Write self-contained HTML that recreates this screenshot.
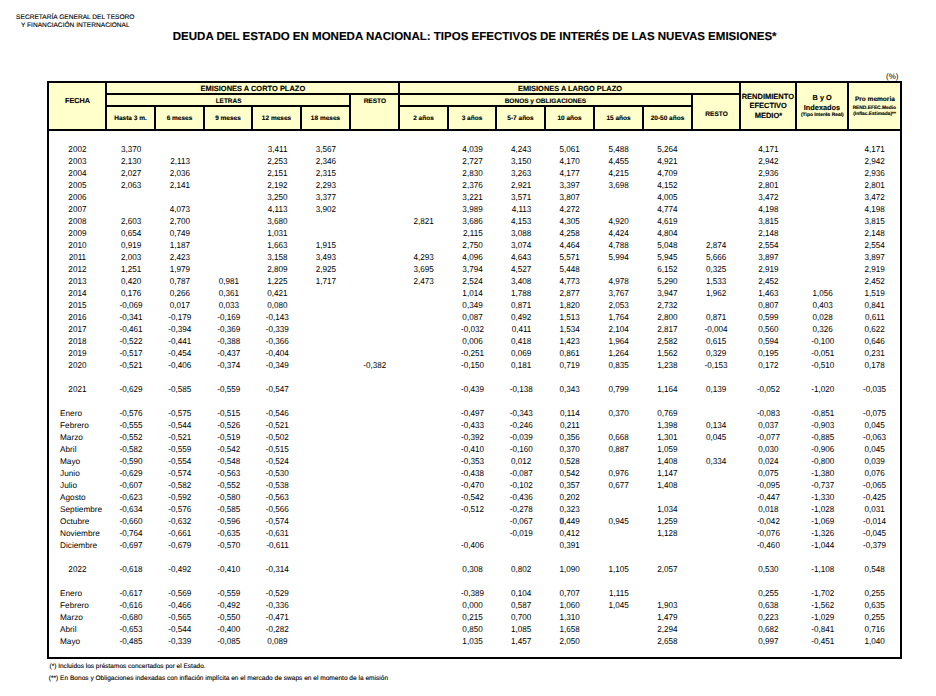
<!DOCTYPE html>
<html lang="es"><head><meta charset="utf-8"><title>Deuda del Estado</title>
<style>
html,body{margin:0;padding:0;background:#fff;width:936px;height:696px;overflow:hidden}
svg{display:block}
svg text{font-family:"Liberation Sans",Arial,sans-serif;text-rendering:geometricPrecision}
.hd text[font-weight=bold]{stroke:#000;stroke-width:0.12px}
</style></head><body>
<svg width="936" height="696" viewBox="0 0 936 696" font-family="Liberation Sans, Arial, sans-serif">
<rect width="936" height="696" fill="#fff"/>
<rect x="49" y="83" width="851" height="46" fill="#FFFFCC"/>
<rect x="47" y="81" width="855" height="2" fill="#000"/>
<rect x="47" y="129" width="855" height="2" fill="#000"/>
<rect x="47" y="657" width="855" height="2" fill="#000"/>
<rect x="47" y="81" width="2" height="578" fill="#000"/>
<rect x="900" y="81" width="2" height="578" fill="#000"/>
<rect x="105" y="93" width="636" height="2" fill="#000"/>
<rect x="105" y="105" width="246" height="2" fill="#000"/>
<rect x="398" y="105" width="295" height="2" fill="#000"/>
<rect x="105" y="81" width="2" height="50" fill="#000"/>
<rect x="154" y="105" width="2" height="26" fill="#000"/>
<rect x="203" y="105" width="2" height="26" fill="#000"/>
<rect x="251" y="105" width="2" height="26" fill="#000"/>
<rect x="300" y="105" width="2" height="26" fill="#000"/>
<rect x="349" y="93" width="2" height="38" fill="#000"/>
<rect x="398" y="81" width="2" height="50" fill="#000"/>
<rect x="447" y="105" width="2" height="26" fill="#000"/>
<rect x="495" y="105" width="2" height="26" fill="#000"/>
<rect x="544" y="105" width="2" height="26" fill="#000"/>
<rect x="593" y="105" width="2" height="26" fill="#000"/>
<rect x="642" y="105" width="2" height="26" fill="#000"/>
<rect x="691" y="93" width="2" height="38" fill="#000"/>
<rect x="739" y="81" width="2" height="50" fill="#000"/>
<rect x="795" y="81" width="2" height="50" fill="#000"/>
<rect x="847" y="81" width="2" height="50" fill="#000"/>
<rect x="559.8" y="517.4" width="4.2" height="6.8" fill="#a9c1e6"/>
<g fill="#000" class="hd">
<text x="75.30" y="18.90" font-size="6.6" text-anchor="middle" fill="#000" stroke="#000" stroke-width="0.12">SECRETARÍA GENERAL DEL TESORO</text>
<text x="75.35" y="26.70" font-size="6.6" text-anchor="middle" fill="#000" stroke="#000" stroke-width="0.12">Y FINANCIACIÓN INTERNACIONAL</text>
<text x="172.80" y="40.00" font-size="11.52" font-weight="bold" fill="#000">DEUDA DEL ESTADO EN MONEDA NACIONAL: TIPOS EFECTIVOS DE INTERÉS DE LAS NUEVAS EMISIONES*</text>
<text x="898.50" y="79.20" font-size="8" text-anchor="end" fill="#000">(%)</text>
<text x="77.50" y="103.00" font-size="7.26" font-weight="bold" text-anchor="middle" fill="#000">FECHA</text>
<text x="252.85" y="91.00" font-size="7.48" font-weight="bold" text-anchor="middle" fill="#000">EMISIONES A CORTO PLAZO</text>
<text x="228.55" y="103.00" font-size="6.45" font-weight="bold" text-anchor="middle" fill="#000">LETRAS</text>
<text x="374.85" y="103.00" font-size="6.55" font-weight="bold" text-anchor="middle" fill="#000">RESTO</text>
<text x="569.95" y="91.00" font-size="7.42" font-weight="bold" text-anchor="middle" fill="#000">EMISIONES A LARGO PLAZO</text>
<text x="545.40" y="103.00" font-size="6.53" font-weight="bold" text-anchor="middle" fill="#000">BONOS y OBLIGACIONES</text>
<text x="130.50" y="120.00" font-size="6.5" font-weight="bold" text-anchor="middle" fill="#000">Hasta 3 m.</text>
<text x="179.50" y="120.00" font-size="6.5" font-weight="bold" text-anchor="middle" fill="#000">6 meses</text>
<text x="228.00" y="120.00" font-size="6.5" font-weight="bold" text-anchor="middle" fill="#000">9 meses</text>
<text x="276.50" y="120.00" font-size="6.5" font-weight="bold" text-anchor="middle" fill="#000">12 meses</text>
<text x="325.50" y="120.00" font-size="6.5" font-weight="bold" text-anchor="middle" fill="#000">18 meses</text>
<text x="423.50" y="120.00" font-size="6.5" font-weight="bold" text-anchor="middle" fill="#000">2 años</text>
<text x="472.00" y="120.00" font-size="6.5" font-weight="bold" text-anchor="middle" fill="#000">3 años</text>
<text x="520.50" y="120.00" font-size="6.5" font-weight="bold" text-anchor="middle" fill="#000">5-7 años</text>
<text x="569.50" y="120.00" font-size="6.5" font-weight="bold" text-anchor="middle" fill="#000">10 años</text>
<text x="618.50" y="120.00" font-size="6.5" font-weight="bold" text-anchor="middle" fill="#000">15 años</text>
<text x="667.50" y="120.00" font-size="6.5" font-weight="bold" text-anchor="middle" fill="#000">20-50 años</text>
<text x="716.55" y="116.00" font-size="6.55" font-weight="bold" text-anchor="middle" fill="#000">RESTO</text>
<text x="767.85" y="99.00" font-size="7.5" font-weight="bold" text-anchor="middle" fill="#000">RENDIMIENTO</text>
<text x="768.15" y="108.10" font-size="7.5" font-weight="bold" text-anchor="middle" fill="#000">EFECTIVO</text>
<text x="768.40" y="117.50" font-size="7.5" font-weight="bold" text-anchor="middle" fill="#000">MEDIO*</text>
<text x="822.15" y="100.20" font-size="7.35" font-weight="bold" text-anchor="middle" fill="#000">B y O</text>
<text x="822.00" y="110.20" font-size="7.36" font-weight="bold" text-anchor="middle" fill="#000">Indexados</text>
<text x="822.35" y="116.30" font-size="4.93" font-weight="bold" text-anchor="middle" fill="#000" stroke="#000" stroke-width="0.18">(Tipo Interés Real)</text>
<text x="874.90" y="100.80" font-size="6.54" font-weight="bold" text-anchor="middle" fill="#000">Pro memoria</text>
<text x="874.30" y="109.00" font-size="4.85" font-weight="bold" text-anchor="middle" fill="#000" stroke="#000" stroke-width="0.18">REND.EFEC.Medio</text>
<text x="874.50" y="114.60" font-size="4.85" font-weight="bold" text-anchor="middle" fill="#000" stroke="#000" stroke-width="0.18">(Inflac.Estimada)**</text>
<text x="49.50" y="667.90" font-size="6.53" fill="#000" stroke="#000" stroke-width="0.12">(*) Incluidos los préstamos concertados por el Estado.</text>
<text x="48.80" y="679.90" font-size="6.57" fill="#000" stroke="#000" stroke-width="0.12">(**) En Bonos y Obligaciones indexadas con inflación implícita en el mercado de swaps en el momento de la emisión</text>
</g>
<g fill="#000" transform="scale(0.94419 1)">
<text x="81.98" y="152.00" font-size="8.6" text-anchor="middle" fill="#000">2002</text>
<text x="149.55" y="152.00" font-size="8.6" text-anchor="end" fill="#000">3,370</text>
<text x="304.50" y="152.00" font-size="8.6" text-anchor="end" fill="#000">3,411</text>
<text x="355.86" y="152.00" font-size="8.6" text-anchor="end" fill="#000">3,567</text>
<text x="511.23" y="152.00" font-size="8.6" text-anchor="end" fill="#000">4,039</text>
<text x="562.81" y="152.00" font-size="8.6" text-anchor="end" fill="#000">4,243</text>
<text x="614.07" y="152.00" font-size="8.6" text-anchor="end" fill="#000">5,061</text>
<text x="665.97" y="152.00" font-size="8.6" text-anchor="end" fill="#000">5,488</text>
<text x="717.66" y="152.00" font-size="8.6" text-anchor="end" fill="#000">5,264</text>
<text x="824.63" y="152.00" font-size="8.6" text-anchor="end" fill="#000">4,171</text>
<text x="937.10" y="152.00" font-size="8.6" text-anchor="end" fill="#000">4,171</text>
<text x="81.98" y="164.00" font-size="8.6" text-anchor="middle" fill="#000">2003</text>
<text x="149.55" y="164.00" font-size="8.6" text-anchor="end" fill="#000">2,130</text>
<text x="201.23" y="164.00" font-size="8.6" text-anchor="end" fill="#000">2,113</text>
<text x="304.50" y="164.00" font-size="8.6" text-anchor="end" fill="#000">2,253</text>
<text x="355.86" y="164.00" font-size="8.6" text-anchor="end" fill="#000">2,346</text>
<text x="511.23" y="164.00" font-size="8.6" text-anchor="end" fill="#000">2,727</text>
<text x="562.81" y="164.00" font-size="8.6" text-anchor="end" fill="#000">3,150</text>
<text x="614.07" y="164.00" font-size="8.6" text-anchor="end" fill="#000">4,170</text>
<text x="665.97" y="164.00" font-size="8.6" text-anchor="end" fill="#000">4,455</text>
<text x="717.66" y="164.00" font-size="8.6" text-anchor="end" fill="#000">4,921</text>
<text x="824.63" y="164.00" font-size="8.6" text-anchor="end" fill="#000">2,942</text>
<text x="937.10" y="164.00" font-size="8.6" text-anchor="end" fill="#000">2,942</text>
<text x="81.98" y="176.00" font-size="8.6" text-anchor="middle" fill="#000">2004</text>
<text x="149.55" y="176.00" font-size="8.6" text-anchor="end" fill="#000">2,027</text>
<text x="201.23" y="176.00" font-size="8.6" text-anchor="end" fill="#000">2,036</text>
<text x="304.50" y="176.00" font-size="8.6" text-anchor="end" fill="#000">2,151</text>
<text x="355.86" y="176.00" font-size="8.6" text-anchor="end" fill="#000">2,315</text>
<text x="511.23" y="176.00" font-size="8.6" text-anchor="end" fill="#000">2,830</text>
<text x="562.81" y="176.00" font-size="8.6" text-anchor="end" fill="#000">3,263</text>
<text x="614.07" y="176.00" font-size="8.6" text-anchor="end" fill="#000">4,177</text>
<text x="665.97" y="176.00" font-size="8.6" text-anchor="end" fill="#000">4,215</text>
<text x="717.66" y="176.00" font-size="8.6" text-anchor="end" fill="#000">4,709</text>
<text x="824.63" y="176.00" font-size="8.6" text-anchor="end" fill="#000">2,936</text>
<text x="937.10" y="176.00" font-size="8.6" text-anchor="end" fill="#000">2,936</text>
<text x="81.98" y="188.00" font-size="8.6" text-anchor="middle" fill="#000">2005</text>
<text x="149.55" y="188.00" font-size="8.6" text-anchor="end" fill="#000">2,063</text>
<text x="201.23" y="188.00" font-size="8.6" text-anchor="end" fill="#000">2,141</text>
<text x="304.50" y="188.00" font-size="8.6" text-anchor="end" fill="#000">2,192</text>
<text x="355.86" y="188.00" font-size="8.6" text-anchor="end" fill="#000">2,293</text>
<text x="511.23" y="188.00" font-size="8.6" text-anchor="end" fill="#000">2,376</text>
<text x="562.81" y="188.00" font-size="8.6" text-anchor="end" fill="#000">2,921</text>
<text x="614.07" y="188.00" font-size="8.6" text-anchor="end" fill="#000">3,397</text>
<text x="665.97" y="188.00" font-size="8.6" text-anchor="end" fill="#000">3,698</text>
<text x="717.66" y="188.00" font-size="8.6" text-anchor="end" fill="#000">4,152</text>
<text x="824.63" y="188.00" font-size="8.6" text-anchor="end" fill="#000">2,801</text>
<text x="937.10" y="188.00" font-size="8.6" text-anchor="end" fill="#000">2,801</text>
<text x="81.98" y="200.00" font-size="8.6" text-anchor="middle" fill="#000">2006</text>
<text x="304.50" y="200.00" font-size="8.6" text-anchor="end" fill="#000">3,250</text>
<text x="355.86" y="200.00" font-size="8.6" text-anchor="end" fill="#000">3,377</text>
<text x="511.23" y="200.00" font-size="8.6" text-anchor="end" fill="#000">3,221</text>
<text x="562.81" y="200.00" font-size="8.6" text-anchor="end" fill="#000">3,571</text>
<text x="614.07" y="200.00" font-size="8.6" text-anchor="end" fill="#000">3,807</text>
<text x="717.66" y="200.00" font-size="8.6" text-anchor="end" fill="#000">4,005</text>
<text x="824.63" y="200.00" font-size="8.6" text-anchor="end" fill="#000">3,472</text>
<text x="937.10" y="200.00" font-size="8.6" text-anchor="end" fill="#000">3,472</text>
<text x="81.98" y="212.00" font-size="8.6" text-anchor="middle" fill="#000">2007</text>
<text x="201.23" y="212.00" font-size="8.6" text-anchor="end" fill="#000">4,073</text>
<text x="304.50" y="212.00" font-size="8.6" text-anchor="end" fill="#000">4,113</text>
<text x="355.86" y="212.00" font-size="8.6" text-anchor="end" fill="#000">3,902</text>
<text x="511.23" y="212.00" font-size="8.6" text-anchor="end" fill="#000">3,989</text>
<text x="562.81" y="212.00" font-size="8.6" text-anchor="end" fill="#000">4,113</text>
<text x="614.07" y="212.00" font-size="8.6" text-anchor="end" fill="#000">4,272</text>
<text x="717.66" y="212.00" font-size="8.6" text-anchor="end" fill="#000">4,774</text>
<text x="824.63" y="212.00" font-size="8.6" text-anchor="end" fill="#000">4,198</text>
<text x="937.10" y="212.00" font-size="8.6" text-anchor="end" fill="#000">4,198</text>
<text x="81.98" y="224.00" font-size="8.6" text-anchor="middle" fill="#000">2008</text>
<text x="149.55" y="224.00" font-size="8.6" text-anchor="end" fill="#000">2,603</text>
<text x="201.23" y="224.00" font-size="8.6" text-anchor="end" fill="#000">2,700</text>
<text x="304.50" y="224.00" font-size="8.6" text-anchor="end" fill="#000">3,680</text>
<text x="459.34" y="224.00" font-size="8.6" text-anchor="end" fill="#000">2,821</text>
<text x="511.23" y="224.00" font-size="8.6" text-anchor="end" fill="#000">3,686</text>
<text x="562.81" y="224.00" font-size="8.6" text-anchor="end" fill="#000">4,153</text>
<text x="614.07" y="224.00" font-size="8.6" text-anchor="end" fill="#000">4,305</text>
<text x="665.97" y="224.00" font-size="8.6" text-anchor="end" fill="#000">4,920</text>
<text x="717.66" y="224.00" font-size="8.6" text-anchor="end" fill="#000">4,619</text>
<text x="824.63" y="224.00" font-size="8.6" text-anchor="end" fill="#000">3,815</text>
<text x="937.10" y="224.00" font-size="8.6" text-anchor="end" fill="#000">3,815</text>
<text x="81.98" y="236.00" font-size="8.6" text-anchor="middle" fill="#000">2009</text>
<text x="149.55" y="236.00" font-size="8.6" text-anchor="end" fill="#000">0,654</text>
<text x="201.23" y="236.00" font-size="8.6" text-anchor="end" fill="#000">0,749</text>
<text x="304.50" y="236.00" font-size="8.6" text-anchor="end" fill="#000">1,031</text>
<text x="511.23" y="236.00" font-size="8.6" text-anchor="end" fill="#000">2,115</text>
<text x="562.81" y="236.00" font-size="8.6" text-anchor="end" fill="#000">3,088</text>
<text x="614.07" y="236.00" font-size="8.6" text-anchor="end" fill="#000">4,258</text>
<text x="665.97" y="236.00" font-size="8.6" text-anchor="end" fill="#000">4,424</text>
<text x="717.66" y="236.00" font-size="8.6" text-anchor="end" fill="#000">4,804</text>
<text x="824.63" y="236.00" font-size="8.6" text-anchor="end" fill="#000">2,148</text>
<text x="937.10" y="236.00" font-size="8.6" text-anchor="end" fill="#000">2,148</text>
<text x="81.98" y="248.00" font-size="8.6" text-anchor="middle" fill="#000">2010</text>
<text x="149.55" y="248.00" font-size="8.6" text-anchor="end" fill="#000">0,919</text>
<text x="201.23" y="248.00" font-size="8.6" text-anchor="end" fill="#000">1,187</text>
<text x="304.50" y="248.00" font-size="8.6" text-anchor="end" fill="#000">1,663</text>
<text x="355.86" y="248.00" font-size="8.6" text-anchor="end" fill="#000">1,915</text>
<text x="511.23" y="248.00" font-size="8.6" text-anchor="end" fill="#000">2,750</text>
<text x="562.81" y="248.00" font-size="8.6" text-anchor="end" fill="#000">3,074</text>
<text x="614.07" y="248.00" font-size="8.6" text-anchor="end" fill="#000">4,464</text>
<text x="665.97" y="248.00" font-size="8.6" text-anchor="end" fill="#000">4,788</text>
<text x="717.66" y="248.00" font-size="8.6" text-anchor="end" fill="#000">5,048</text>
<text x="769.13" y="248.00" font-size="8.6" text-anchor="end" fill="#000">2,874</text>
<text x="824.63" y="248.00" font-size="8.6" text-anchor="end" fill="#000">2,554</text>
<text x="937.10" y="248.00" font-size="8.6" text-anchor="end" fill="#000">2,554</text>
<text x="81.98" y="260.00" font-size="8.6" text-anchor="middle" fill="#000">2011</text>
<text x="149.55" y="260.00" font-size="8.6" text-anchor="end" fill="#000">2,003</text>
<text x="201.23" y="260.00" font-size="8.6" text-anchor="end" fill="#000">2,423</text>
<text x="304.50" y="260.00" font-size="8.6" text-anchor="end" fill="#000">3,158</text>
<text x="355.86" y="260.00" font-size="8.6" text-anchor="end" fill="#000">3,493</text>
<text x="459.34" y="260.00" font-size="8.6" text-anchor="end" fill="#000">4,293</text>
<text x="511.23" y="260.00" font-size="8.6" text-anchor="end" fill="#000">4,096</text>
<text x="562.81" y="260.00" font-size="8.6" text-anchor="end" fill="#000">4,643</text>
<text x="614.07" y="260.00" font-size="8.6" text-anchor="end" fill="#000">5,571</text>
<text x="665.97" y="260.00" font-size="8.6" text-anchor="end" fill="#000">5,994</text>
<text x="717.66" y="260.00" font-size="8.6" text-anchor="end" fill="#000">5,945</text>
<text x="769.13" y="260.00" font-size="8.6" text-anchor="end" fill="#000">5,666</text>
<text x="824.63" y="260.00" font-size="8.6" text-anchor="end" fill="#000">3,897</text>
<text x="937.10" y="260.00" font-size="8.6" text-anchor="end" fill="#000">3,897</text>
<text x="81.98" y="272.00" font-size="8.6" text-anchor="middle" fill="#000">2012</text>
<text x="149.55" y="272.00" font-size="8.6" text-anchor="end" fill="#000">1,251</text>
<text x="201.23" y="272.00" font-size="8.6" text-anchor="end" fill="#000">1,979</text>
<text x="304.50" y="272.00" font-size="8.6" text-anchor="end" fill="#000">2,809</text>
<text x="355.86" y="272.00" font-size="8.6" text-anchor="end" fill="#000">2,925</text>
<text x="459.34" y="272.00" font-size="8.6" text-anchor="end" fill="#000">3,695</text>
<text x="511.23" y="272.00" font-size="8.6" text-anchor="end" fill="#000">3,794</text>
<text x="562.81" y="272.00" font-size="8.6" text-anchor="end" fill="#000">4,527</text>
<text x="614.07" y="272.00" font-size="8.6" text-anchor="end" fill="#000">5,448</text>
<text x="717.66" y="272.00" font-size="8.6" text-anchor="end" fill="#000">6,152</text>
<text x="769.13" y="272.00" font-size="8.6" text-anchor="end" fill="#000">0,325</text>
<text x="824.63" y="272.00" font-size="8.6" text-anchor="end" fill="#000">2,919</text>
<text x="937.10" y="272.00" font-size="8.6" text-anchor="end" fill="#000">2,919</text>
<text x="81.98" y="284.00" font-size="8.6" text-anchor="middle" fill="#000">2013</text>
<text x="149.55" y="284.00" font-size="8.6" text-anchor="end" fill="#000">0,420</text>
<text x="201.23" y="284.00" font-size="8.6" text-anchor="end" fill="#000">0,787</text>
<text x="253.13" y="284.00" font-size="8.6" text-anchor="end" fill="#000">0,981</text>
<text x="304.50" y="284.00" font-size="8.6" text-anchor="end" fill="#000">1,225</text>
<text x="355.86" y="284.00" font-size="8.6" text-anchor="end" fill="#000">1,717</text>
<text x="459.34" y="284.00" font-size="8.6" text-anchor="end" fill="#000">2,473</text>
<text x="511.23" y="284.00" font-size="8.6" text-anchor="end" fill="#000">2,524</text>
<text x="562.81" y="284.00" font-size="8.6" text-anchor="end" fill="#000">3,408</text>
<text x="614.07" y="284.00" font-size="8.6" text-anchor="end" fill="#000">4,773</text>
<text x="665.97" y="284.00" font-size="8.6" text-anchor="end" fill="#000">4,978</text>
<text x="717.66" y="284.00" font-size="8.6" text-anchor="end" fill="#000">5,290</text>
<text x="769.13" y="284.00" font-size="8.6" text-anchor="end" fill="#000">1,533</text>
<text x="824.63" y="284.00" font-size="8.6" text-anchor="end" fill="#000">2,452</text>
<text x="937.10" y="284.00" font-size="8.6" text-anchor="end" fill="#000">2,452</text>
<text x="81.98" y="296.00" font-size="8.6" text-anchor="middle" fill="#000">2014</text>
<text x="149.55" y="296.00" font-size="8.6" text-anchor="end" fill="#000">0,176</text>
<text x="201.23" y="296.00" font-size="8.6" text-anchor="end" fill="#000">0,266</text>
<text x="253.13" y="296.00" font-size="8.6" text-anchor="end" fill="#000">0,361</text>
<text x="304.50" y="296.00" font-size="8.6" text-anchor="end" fill="#000">0,421</text>
<text x="511.23" y="296.00" font-size="8.6" text-anchor="end" fill="#000">1,014</text>
<text x="562.81" y="296.00" font-size="8.6" text-anchor="end" fill="#000">1,788</text>
<text x="614.07" y="296.00" font-size="8.6" text-anchor="end" fill="#000">2,877</text>
<text x="665.97" y="296.00" font-size="8.6" text-anchor="end" fill="#000">3,767</text>
<text x="717.66" y="296.00" font-size="8.6" text-anchor="end" fill="#000">3,947</text>
<text x="769.13" y="296.00" font-size="8.6" text-anchor="end" fill="#000">1,962</text>
<text x="824.63" y="296.00" font-size="8.6" text-anchor="end" fill="#000">1,463</text>
<text x="882.14" y="296.00" font-size="8.6" text-anchor="end" fill="#000">1,056</text>
<text x="937.10" y="296.00" font-size="8.6" text-anchor="end" fill="#000">1,519</text>
<text x="81.98" y="308.00" font-size="8.6" text-anchor="middle" fill="#000">2015</text>
<text x="150.92" y="308.00" font-size="8.6" text-anchor="end" fill="#000">-0,069</text>
<text x="201.23" y="308.00" font-size="8.6" text-anchor="end" fill="#000">0,017</text>
<text x="253.13" y="308.00" font-size="8.6" text-anchor="end" fill="#000">0,033</text>
<text x="304.50" y="308.00" font-size="8.6" text-anchor="end" fill="#000">0,080</text>
<text x="511.23" y="308.00" font-size="8.6" text-anchor="end" fill="#000">0,349</text>
<text x="562.81" y="308.00" font-size="8.6" text-anchor="end" fill="#000">0,871</text>
<text x="614.07" y="308.00" font-size="8.6" text-anchor="end" fill="#000">1,820</text>
<text x="665.97" y="308.00" font-size="8.6" text-anchor="end" fill="#000">2,053</text>
<text x="717.66" y="308.00" font-size="8.6" text-anchor="end" fill="#000">2,732</text>
<text x="824.63" y="308.00" font-size="8.6" text-anchor="end" fill="#000">0,807</text>
<text x="882.14" y="308.00" font-size="8.6" text-anchor="end" fill="#000">0,403</text>
<text x="937.10" y="308.00" font-size="8.6" text-anchor="end" fill="#000">0,841</text>
<text x="81.98" y="320.00" font-size="8.6" text-anchor="middle" fill="#000">2016</text>
<text x="150.92" y="320.00" font-size="8.6" text-anchor="end" fill="#000">-0,341</text>
<text x="202.61" y="320.00" font-size="8.6" text-anchor="end" fill="#000">-0,179</text>
<text x="254.50" y="320.00" font-size="8.6" text-anchor="end" fill="#000">-0,169</text>
<text x="305.87" y="320.00" font-size="8.6" text-anchor="end" fill="#000">-0,143</text>
<text x="511.23" y="320.00" font-size="8.6" text-anchor="end" fill="#000">0,087</text>
<text x="562.81" y="320.00" font-size="8.6" text-anchor="end" fill="#000">0,492</text>
<text x="614.07" y="320.00" font-size="8.6" text-anchor="end" fill="#000">1,513</text>
<text x="665.97" y="320.00" font-size="8.6" text-anchor="end" fill="#000">1,764</text>
<text x="717.66" y="320.00" font-size="8.6" text-anchor="end" fill="#000">2,800</text>
<text x="769.13" y="320.00" font-size="8.6" text-anchor="end" fill="#000">0,871</text>
<text x="824.63" y="320.00" font-size="8.6" text-anchor="end" fill="#000">0,599</text>
<text x="882.14" y="320.00" font-size="8.6" text-anchor="end" fill="#000">0,028</text>
<text x="937.10" y="320.00" font-size="8.6" text-anchor="end" fill="#000">0,611</text>
<text x="81.98" y="332.00" font-size="8.6" text-anchor="middle" fill="#000">2017</text>
<text x="150.92" y="332.00" font-size="8.6" text-anchor="end" fill="#000">-0,461</text>
<text x="202.61" y="332.00" font-size="8.6" text-anchor="end" fill="#000">-0,394</text>
<text x="254.50" y="332.00" font-size="8.6" text-anchor="end" fill="#000">-0,369</text>
<text x="305.87" y="332.00" font-size="8.6" text-anchor="end" fill="#000">-0,339</text>
<text x="512.61" y="332.00" font-size="8.6" text-anchor="end" fill="#000">-0,032</text>
<text x="562.81" y="332.00" font-size="8.6" text-anchor="end" fill="#000">0,411</text>
<text x="614.07" y="332.00" font-size="8.6" text-anchor="end" fill="#000">1,534</text>
<text x="665.97" y="332.00" font-size="8.6" text-anchor="end" fill="#000">2,104</text>
<text x="717.66" y="332.00" font-size="8.6" text-anchor="end" fill="#000">2,817</text>
<text x="770.50" y="332.00" font-size="8.6" text-anchor="end" fill="#000">-0,004</text>
<text x="824.63" y="332.00" font-size="8.6" text-anchor="end" fill="#000">0,560</text>
<text x="882.14" y="332.00" font-size="8.6" text-anchor="end" fill="#000">0,326</text>
<text x="937.10" y="332.00" font-size="8.6" text-anchor="end" fill="#000">0,622</text>
<text x="81.98" y="344.00" font-size="8.6" text-anchor="middle" fill="#000">2018</text>
<text x="150.92" y="344.00" font-size="8.6" text-anchor="end" fill="#000">-0,522</text>
<text x="202.61" y="344.00" font-size="8.6" text-anchor="end" fill="#000">-0,441</text>
<text x="254.50" y="344.00" font-size="8.6" text-anchor="end" fill="#000">-0,388</text>
<text x="305.87" y="344.00" font-size="8.6" text-anchor="end" fill="#000">-0,366</text>
<text x="511.23" y="344.00" font-size="8.6" text-anchor="end" fill="#000">0,006</text>
<text x="562.81" y="344.00" font-size="8.6" text-anchor="end" fill="#000">0,418</text>
<text x="614.07" y="344.00" font-size="8.6" text-anchor="end" fill="#000">1,423</text>
<text x="665.97" y="344.00" font-size="8.6" text-anchor="end" fill="#000">1,964</text>
<text x="717.66" y="344.00" font-size="8.6" text-anchor="end" fill="#000">2,582</text>
<text x="769.13" y="344.00" font-size="8.6" text-anchor="end" fill="#000">0,615</text>
<text x="824.63" y="344.00" font-size="8.6" text-anchor="end" fill="#000">0,594</text>
<text x="883.51" y="344.00" font-size="8.6" text-anchor="end" fill="#000">-0,100</text>
<text x="937.10" y="344.00" font-size="8.6" text-anchor="end" fill="#000">0,646</text>
<text x="81.98" y="356.00" font-size="8.6" text-anchor="middle" fill="#000">2019</text>
<text x="150.92" y="356.00" font-size="8.6" text-anchor="end" fill="#000">-0,517</text>
<text x="202.61" y="356.00" font-size="8.6" text-anchor="end" fill="#000">-0,454</text>
<text x="254.50" y="356.00" font-size="8.6" text-anchor="end" fill="#000">-0,437</text>
<text x="305.87" y="356.00" font-size="8.6" text-anchor="end" fill="#000">-0,404</text>
<text x="512.61" y="356.00" font-size="8.6" text-anchor="end" fill="#000">-0,251</text>
<text x="562.81" y="356.00" font-size="8.6" text-anchor="end" fill="#000">0,069</text>
<text x="614.07" y="356.00" font-size="8.6" text-anchor="end" fill="#000">0,861</text>
<text x="665.97" y="356.00" font-size="8.6" text-anchor="end" fill="#000">1,264</text>
<text x="717.66" y="356.00" font-size="8.6" text-anchor="end" fill="#000">1,562</text>
<text x="769.13" y="356.00" font-size="8.6" text-anchor="end" fill="#000">0,329</text>
<text x="824.63" y="356.00" font-size="8.6" text-anchor="end" fill="#000">0,195</text>
<text x="883.51" y="356.00" font-size="8.6" text-anchor="end" fill="#000">-0,051</text>
<text x="937.10" y="356.00" font-size="8.6" text-anchor="end" fill="#000">0,231</text>
<text x="81.98" y="368.00" font-size="8.6" text-anchor="middle" fill="#000">2020</text>
<text x="150.92" y="368.00" font-size="8.6" text-anchor="end" fill="#000">-0,521</text>
<text x="202.61" y="368.00" font-size="8.6" text-anchor="end" fill="#000">-0,406</text>
<text x="254.50" y="368.00" font-size="8.6" text-anchor="end" fill="#000">-0,374</text>
<text x="305.87" y="368.00" font-size="8.6" text-anchor="end" fill="#000">-0,349</text>
<text x="409.14" y="368.00" font-size="8.6" text-anchor="end" fill="#000">-0,382</text>
<text x="512.61" y="368.00" font-size="8.6" text-anchor="end" fill="#000">-0,150</text>
<text x="562.81" y="368.00" font-size="8.6" text-anchor="end" fill="#000">0,181</text>
<text x="614.07" y="368.00" font-size="8.6" text-anchor="end" fill="#000">0,719</text>
<text x="665.97" y="368.00" font-size="8.6" text-anchor="end" fill="#000">0,835</text>
<text x="717.66" y="368.00" font-size="8.6" text-anchor="end" fill="#000">1,238</text>
<text x="770.50" y="368.00" font-size="8.6" text-anchor="end" fill="#000">-0,153</text>
<text x="824.63" y="368.00" font-size="8.6" text-anchor="end" fill="#000">0,172</text>
<text x="883.51" y="368.00" font-size="8.6" text-anchor="end" fill="#000">-0,510</text>
<text x="937.10" y="368.00" font-size="8.6" text-anchor="end" fill="#000">0,178</text>
<text x="81.98" y="392.00" font-size="8.6" text-anchor="middle" fill="#000">2021</text>
<text x="150.92" y="392.00" font-size="8.6" text-anchor="end" fill="#000">-0,629</text>
<text x="202.61" y="392.00" font-size="8.6" text-anchor="end" fill="#000">-0,585</text>
<text x="254.50" y="392.00" font-size="8.6" text-anchor="end" fill="#000">-0,559</text>
<text x="305.87" y="392.00" font-size="8.6" text-anchor="end" fill="#000">-0,547</text>
<text x="512.61" y="392.00" font-size="8.6" text-anchor="end" fill="#000">-0,439</text>
<text x="564.19" y="392.00" font-size="8.6" text-anchor="end" fill="#000">-0,138</text>
<text x="614.07" y="392.00" font-size="8.6" text-anchor="end" fill="#000">0,343</text>
<text x="665.97" y="392.00" font-size="8.6" text-anchor="end" fill="#000">0,799</text>
<text x="717.66" y="392.00" font-size="8.6" text-anchor="end" fill="#000">1,164</text>
<text x="769.13" y="392.00" font-size="8.6" text-anchor="end" fill="#000">0,139</text>
<text x="826.00" y="392.00" font-size="8.6" text-anchor="end" fill="#000">-0,052</text>
<text x="883.51" y="392.00" font-size="8.6" text-anchor="end" fill="#000">-1,020</text>
<text x="938.48" y="392.00" font-size="8.6" text-anchor="end" fill="#000">-0,035</text>
<text x="150.92" y="416.00" font-size="8.6" text-anchor="end" fill="#000">-0,576</text>
<text x="202.61" y="416.00" font-size="8.6" text-anchor="end" fill="#000">-0,575</text>
<text x="254.50" y="416.00" font-size="8.6" text-anchor="end" fill="#000">-0,515</text>
<text x="305.87" y="416.00" font-size="8.6" text-anchor="end" fill="#000">-0,546</text>
<text x="512.61" y="416.00" font-size="8.6" text-anchor="end" fill="#000">-0,497</text>
<text x="564.19" y="416.00" font-size="8.6" text-anchor="end" fill="#000">-0,343</text>
<text x="614.07" y="416.00" font-size="8.6" text-anchor="end" fill="#000">0,114</text>
<text x="665.97" y="416.00" font-size="8.6" text-anchor="end" fill="#000">0,370</text>
<text x="717.66" y="416.00" font-size="8.6" text-anchor="end" fill="#000">0,769</text>
<text x="826.00" y="416.00" font-size="8.6" text-anchor="end" fill="#000">-0,083</text>
<text x="883.51" y="416.00" font-size="8.6" text-anchor="end" fill="#000">-0,851</text>
<text x="938.48" y="416.00" font-size="8.6" text-anchor="end" fill="#000">-0,075</text>
<text x="150.92" y="428.00" font-size="8.6" text-anchor="end" fill="#000">-0,555</text>
<text x="202.61" y="428.00" font-size="8.6" text-anchor="end" fill="#000">-0,544</text>
<text x="254.50" y="428.00" font-size="8.6" text-anchor="end" fill="#000">-0,526</text>
<text x="305.87" y="428.00" font-size="8.6" text-anchor="end" fill="#000">-0,521</text>
<text x="512.61" y="428.00" font-size="8.6" text-anchor="end" fill="#000">-0,433</text>
<text x="564.19" y="428.00" font-size="8.6" text-anchor="end" fill="#000">-0,246</text>
<text x="614.07" y="428.00" font-size="8.6" text-anchor="end" fill="#000">0,211</text>
<text x="717.66" y="428.00" font-size="8.6" text-anchor="end" fill="#000">1,398</text>
<text x="769.13" y="428.00" font-size="8.6" text-anchor="end" fill="#000">0,134</text>
<text x="824.63" y="428.00" font-size="8.6" text-anchor="end" fill="#000">0,037</text>
<text x="883.51" y="428.00" font-size="8.6" text-anchor="end" fill="#000">-0,903</text>
<text x="937.10" y="428.00" font-size="8.6" text-anchor="end" fill="#000">0,045</text>
<text x="150.92" y="440.00" font-size="8.6" text-anchor="end" fill="#000">-0,552</text>
<text x="202.61" y="440.00" font-size="8.6" text-anchor="end" fill="#000">-0,521</text>
<text x="254.50" y="440.00" font-size="8.6" text-anchor="end" fill="#000">-0,519</text>
<text x="305.87" y="440.00" font-size="8.6" text-anchor="end" fill="#000">-0,502</text>
<text x="512.61" y="440.00" font-size="8.6" text-anchor="end" fill="#000">-0,392</text>
<text x="564.19" y="440.00" font-size="8.6" text-anchor="end" fill="#000">-0,039</text>
<text x="614.07" y="440.00" font-size="8.6" text-anchor="end" fill="#000">0,356</text>
<text x="665.97" y="440.00" font-size="8.6" text-anchor="end" fill="#000">0,668</text>
<text x="717.66" y="440.00" font-size="8.6" text-anchor="end" fill="#000">1,301</text>
<text x="769.13" y="440.00" font-size="8.6" text-anchor="end" fill="#000">0,045</text>
<text x="826.00" y="440.00" font-size="8.6" text-anchor="end" fill="#000">-0,077</text>
<text x="883.51" y="440.00" font-size="8.6" text-anchor="end" fill="#000">-0,885</text>
<text x="938.48" y="440.00" font-size="8.6" text-anchor="end" fill="#000">-0,063</text>
<text x="150.92" y="452.00" font-size="8.6" text-anchor="end" fill="#000">-0,582</text>
<text x="202.61" y="452.00" font-size="8.6" text-anchor="end" fill="#000">-0,559</text>
<text x="254.50" y="452.00" font-size="8.6" text-anchor="end" fill="#000">-0,542</text>
<text x="305.87" y="452.00" font-size="8.6" text-anchor="end" fill="#000">-0,515</text>
<text x="512.61" y="452.00" font-size="8.6" text-anchor="end" fill="#000">-0,410</text>
<text x="564.19" y="452.00" font-size="8.6" text-anchor="end" fill="#000">-0,160</text>
<text x="614.07" y="452.00" font-size="8.6" text-anchor="end" fill="#000">0,370</text>
<text x="665.97" y="452.00" font-size="8.6" text-anchor="end" fill="#000">0,887</text>
<text x="717.66" y="452.00" font-size="8.6" text-anchor="end" fill="#000">1,059</text>
<text x="824.63" y="452.00" font-size="8.6" text-anchor="end" fill="#000">0,030</text>
<text x="883.51" y="452.00" font-size="8.6" text-anchor="end" fill="#000">-0,906</text>
<text x="937.10" y="452.00" font-size="8.6" text-anchor="end" fill="#000">0,045</text>
<text x="150.92" y="464.00" font-size="8.6" text-anchor="end" fill="#000">-0,590</text>
<text x="202.61" y="464.00" font-size="8.6" text-anchor="end" fill="#000">-0,554</text>
<text x="254.50" y="464.00" font-size="8.6" text-anchor="end" fill="#000">-0,548</text>
<text x="305.87" y="464.00" font-size="8.6" text-anchor="end" fill="#000">-0,524</text>
<text x="512.61" y="464.00" font-size="8.6" text-anchor="end" fill="#000">-0,353</text>
<text x="562.81" y="464.00" font-size="8.6" text-anchor="end" fill="#000">0,012</text>
<text x="614.07" y="464.00" font-size="8.6" text-anchor="end" fill="#000">0,528</text>
<text x="717.66" y="464.00" font-size="8.6" text-anchor="end" fill="#000">1,408</text>
<text x="769.13" y="464.00" font-size="8.6" text-anchor="end" fill="#000">0,334</text>
<text x="824.63" y="464.00" font-size="8.6" text-anchor="end" fill="#000">0,024</text>
<text x="883.51" y="464.00" font-size="8.6" text-anchor="end" fill="#000">-0,800</text>
<text x="937.10" y="464.00" font-size="8.6" text-anchor="end" fill="#000">0,039</text>
<text x="150.92" y="476.00" font-size="8.6" text-anchor="end" fill="#000">-0,629</text>
<text x="202.61" y="476.00" font-size="8.6" text-anchor="end" fill="#000">-0,574</text>
<text x="254.50" y="476.00" font-size="8.6" text-anchor="end" fill="#000">-0,563</text>
<text x="305.87" y="476.00" font-size="8.6" text-anchor="end" fill="#000">-0,530</text>
<text x="512.61" y="476.00" font-size="8.6" text-anchor="end" fill="#000">-0,438</text>
<text x="564.19" y="476.00" font-size="8.6" text-anchor="end" fill="#000">-0,087</text>
<text x="614.07" y="476.00" font-size="8.6" text-anchor="end" fill="#000">0,542</text>
<text x="665.97" y="476.00" font-size="8.6" text-anchor="end" fill="#000">0,976</text>
<text x="717.66" y="476.00" font-size="8.6" text-anchor="end" fill="#000">1,147</text>
<text x="824.63" y="476.00" font-size="8.6" text-anchor="end" fill="#000">0,075</text>
<text x="883.51" y="476.00" font-size="8.6" text-anchor="end" fill="#000">-1,380</text>
<text x="937.10" y="476.00" font-size="8.6" text-anchor="end" fill="#000">0,076</text>
<text x="150.92" y="488.00" font-size="8.6" text-anchor="end" fill="#000">-0,607</text>
<text x="202.61" y="488.00" font-size="8.6" text-anchor="end" fill="#000">-0,582</text>
<text x="254.50" y="488.00" font-size="8.6" text-anchor="end" fill="#000">-0,552</text>
<text x="305.87" y="488.00" font-size="8.6" text-anchor="end" fill="#000">-0,538</text>
<text x="512.61" y="488.00" font-size="8.6" text-anchor="end" fill="#000">-0,470</text>
<text x="564.19" y="488.00" font-size="8.6" text-anchor="end" fill="#000">-0,102</text>
<text x="614.07" y="488.00" font-size="8.6" text-anchor="end" fill="#000">0,357</text>
<text x="665.97" y="488.00" font-size="8.6" text-anchor="end" fill="#000">0,677</text>
<text x="717.66" y="488.00" font-size="8.6" text-anchor="end" fill="#000">1,408</text>
<text x="826.00" y="488.00" font-size="8.6" text-anchor="end" fill="#000">-0,095</text>
<text x="883.51" y="488.00" font-size="8.6" text-anchor="end" fill="#000">-0,737</text>
<text x="938.48" y="488.00" font-size="8.6" text-anchor="end" fill="#000">-0,065</text>
<text x="150.92" y="500.00" font-size="8.6" text-anchor="end" fill="#000">-0,623</text>
<text x="202.61" y="500.00" font-size="8.6" text-anchor="end" fill="#000">-0,592</text>
<text x="254.50" y="500.00" font-size="8.6" text-anchor="end" fill="#000">-0,580</text>
<text x="305.87" y="500.00" font-size="8.6" text-anchor="end" fill="#000">-0,563</text>
<text x="512.61" y="500.00" font-size="8.6" text-anchor="end" fill="#000">-0,542</text>
<text x="564.19" y="500.00" font-size="8.6" text-anchor="end" fill="#000">-0,436</text>
<text x="614.07" y="500.00" font-size="8.6" text-anchor="end" fill="#000">0,202</text>
<text x="826.00" y="500.00" font-size="8.6" text-anchor="end" fill="#000">-0,447</text>
<text x="883.51" y="500.00" font-size="8.6" text-anchor="end" fill="#000">-1,330</text>
<text x="938.48" y="500.00" font-size="8.6" text-anchor="end" fill="#000">-0,425</text>
<text x="150.92" y="512.00" font-size="8.6" text-anchor="end" fill="#000">-0,634</text>
<text x="202.61" y="512.00" font-size="8.6" text-anchor="end" fill="#000">-0,576</text>
<text x="254.50" y="512.00" font-size="8.6" text-anchor="end" fill="#000">-0,585</text>
<text x="305.87" y="512.00" font-size="8.6" text-anchor="end" fill="#000">-0,566</text>
<text x="512.61" y="512.00" font-size="8.6" text-anchor="end" fill="#000">-0,512</text>
<text x="564.19" y="512.00" font-size="8.6" text-anchor="end" fill="#000">-0,278</text>
<text x="614.07" y="512.00" font-size="8.6" text-anchor="end" fill="#000">0,323</text>
<text x="717.66" y="512.00" font-size="8.6" text-anchor="end" fill="#000">1,034</text>
<text x="824.63" y="512.00" font-size="8.6" text-anchor="end" fill="#000">0,018</text>
<text x="883.51" y="512.00" font-size="8.6" text-anchor="end" fill="#000">-1,028</text>
<text x="937.10" y="512.00" font-size="8.6" text-anchor="end" fill="#000">0,031</text>
<text x="150.92" y="524.00" font-size="8.6" text-anchor="end" fill="#000">-0,660</text>
<text x="202.61" y="524.00" font-size="8.6" text-anchor="end" fill="#000">-0,632</text>
<text x="254.50" y="524.00" font-size="8.6" text-anchor="end" fill="#000">-0,596</text>
<text x="305.87" y="524.00" font-size="8.6" text-anchor="end" fill="#000">-0,574</text>
<text x="564.19" y="524.00" font-size="8.6" text-anchor="end" fill="#000">-0,067</text>
<text x="614.07" y="524.00" font-size="8.6" text-anchor="end" fill="#000">0,449</text>
<text x="665.97" y="524.00" font-size="8.6" text-anchor="end" fill="#000">0,945</text>
<text x="717.66" y="524.00" font-size="8.6" text-anchor="end" fill="#000">1,259</text>
<text x="826.00" y="524.00" font-size="8.6" text-anchor="end" fill="#000">-0,042</text>
<text x="883.51" y="524.00" font-size="8.6" text-anchor="end" fill="#000">-1,069</text>
<text x="938.48" y="524.00" font-size="8.6" text-anchor="end" fill="#000">-0,014</text>
<text x="150.92" y="536.00" font-size="8.6" text-anchor="end" fill="#000">-0,764</text>
<text x="202.61" y="536.00" font-size="8.6" text-anchor="end" fill="#000">-0,661</text>
<text x="254.50" y="536.00" font-size="8.6" text-anchor="end" fill="#000">-0,635</text>
<text x="305.87" y="536.00" font-size="8.6" text-anchor="end" fill="#000">-0,631</text>
<text x="564.19" y="536.00" font-size="8.6" text-anchor="end" fill="#000">-0,019</text>
<text x="614.07" y="536.00" font-size="8.6" text-anchor="end" fill="#000">0,412</text>
<text x="717.66" y="536.00" font-size="8.6" text-anchor="end" fill="#000">1,128</text>
<text x="826.00" y="536.00" font-size="8.6" text-anchor="end" fill="#000">-0,076</text>
<text x="883.51" y="536.00" font-size="8.6" text-anchor="end" fill="#000">-1,326</text>
<text x="938.48" y="536.00" font-size="8.6" text-anchor="end" fill="#000">-0,045</text>
<text x="150.92" y="548.00" font-size="8.6" text-anchor="end" fill="#000">-0,697</text>
<text x="202.61" y="548.00" font-size="8.6" text-anchor="end" fill="#000">-0,679</text>
<text x="254.50" y="548.00" font-size="8.6" text-anchor="end" fill="#000">-0,570</text>
<text x="305.87" y="548.00" font-size="8.6" text-anchor="end" fill="#000">-0,611</text>
<text x="512.61" y="548.00" font-size="8.6" text-anchor="end" fill="#000">-0,406</text>
<text x="614.07" y="548.00" font-size="8.6" text-anchor="end" fill="#000">0,391</text>
<text x="826.00" y="548.00" font-size="8.6" text-anchor="end" fill="#000">-0,460</text>
<text x="883.51" y="548.00" font-size="8.6" text-anchor="end" fill="#000">-1,044</text>
<text x="938.48" y="548.00" font-size="8.6" text-anchor="end" fill="#000">-0,379</text>
<text x="81.98" y="572.00" font-size="8.6" text-anchor="middle" fill="#000">2022</text>
<text x="150.92" y="572.00" font-size="8.6" text-anchor="end" fill="#000">-0,618</text>
<text x="202.61" y="572.00" font-size="8.6" text-anchor="end" fill="#000">-0,492</text>
<text x="254.50" y="572.00" font-size="8.6" text-anchor="end" fill="#000">-0,410</text>
<text x="305.87" y="572.00" font-size="8.6" text-anchor="end" fill="#000">-0,314</text>
<text x="511.23" y="572.00" font-size="8.6" text-anchor="end" fill="#000">0,308</text>
<text x="562.81" y="572.00" font-size="8.6" text-anchor="end" fill="#000">0,802</text>
<text x="614.07" y="572.00" font-size="8.6" text-anchor="end" fill="#000">1,090</text>
<text x="665.97" y="572.00" font-size="8.6" text-anchor="end" fill="#000">1,105</text>
<text x="717.66" y="572.00" font-size="8.6" text-anchor="end" fill="#000">2,057</text>
<text x="824.63" y="572.00" font-size="8.6" text-anchor="end" fill="#000">0,530</text>
<text x="883.51" y="572.00" font-size="8.6" text-anchor="end" fill="#000">-1,108</text>
<text x="937.10" y="572.00" font-size="8.6" text-anchor="end" fill="#000">0,548</text>
<text x="150.92" y="596.00" font-size="8.6" text-anchor="end" fill="#000">-0,617</text>
<text x="202.61" y="596.00" font-size="8.6" text-anchor="end" fill="#000">-0,569</text>
<text x="254.50" y="596.00" font-size="8.6" text-anchor="end" fill="#000">-0,559</text>
<text x="305.87" y="596.00" font-size="8.6" text-anchor="end" fill="#000">-0,529</text>
<text x="512.61" y="596.00" font-size="8.6" text-anchor="end" fill="#000">-0,389</text>
<text x="562.81" y="596.00" font-size="8.6" text-anchor="end" fill="#000">0,104</text>
<text x="614.07" y="596.00" font-size="8.6" text-anchor="end" fill="#000">0,707</text>
<text x="665.97" y="596.00" font-size="8.6" text-anchor="end" fill="#000">1,115</text>
<text x="824.63" y="596.00" font-size="8.6" text-anchor="end" fill="#000">0,255</text>
<text x="883.51" y="596.00" font-size="8.6" text-anchor="end" fill="#000">-1,702</text>
<text x="937.10" y="596.00" font-size="8.6" text-anchor="end" fill="#000">0,255</text>
<text x="150.92" y="608.00" font-size="8.6" text-anchor="end" fill="#000">-0,616</text>
<text x="202.61" y="608.00" font-size="8.6" text-anchor="end" fill="#000">-0,466</text>
<text x="254.50" y="608.00" font-size="8.6" text-anchor="end" fill="#000">-0,492</text>
<text x="305.87" y="608.00" font-size="8.6" text-anchor="end" fill="#000">-0,336</text>
<text x="511.23" y="608.00" font-size="8.6" text-anchor="end" fill="#000">0,000</text>
<text x="562.81" y="608.00" font-size="8.6" text-anchor="end" fill="#000">0,587</text>
<text x="614.07" y="608.00" font-size="8.6" text-anchor="end" fill="#000">1,060</text>
<text x="665.97" y="608.00" font-size="8.6" text-anchor="end" fill="#000">1,045</text>
<text x="717.66" y="608.00" font-size="8.6" text-anchor="end" fill="#000">1,903</text>
<text x="824.63" y="608.00" font-size="8.6" text-anchor="end" fill="#000">0,638</text>
<text x="883.51" y="608.00" font-size="8.6" text-anchor="end" fill="#000">-1,562</text>
<text x="937.10" y="608.00" font-size="8.6" text-anchor="end" fill="#000">0,635</text>
<text x="150.92" y="620.00" font-size="8.6" text-anchor="end" fill="#000">-0,680</text>
<text x="202.61" y="620.00" font-size="8.6" text-anchor="end" fill="#000">-0,565</text>
<text x="254.50" y="620.00" font-size="8.6" text-anchor="end" fill="#000">-0,550</text>
<text x="305.87" y="620.00" font-size="8.6" text-anchor="end" fill="#000">-0,471</text>
<text x="511.23" y="620.00" font-size="8.6" text-anchor="end" fill="#000">0,215</text>
<text x="562.81" y="620.00" font-size="8.6" text-anchor="end" fill="#000">0,700</text>
<text x="614.07" y="620.00" font-size="8.6" text-anchor="end" fill="#000">1,310</text>
<text x="717.66" y="620.00" font-size="8.6" text-anchor="end" fill="#000">1,479</text>
<text x="824.63" y="620.00" font-size="8.6" text-anchor="end" fill="#000">0,223</text>
<text x="883.51" y="620.00" font-size="8.6" text-anchor="end" fill="#000">-1,029</text>
<text x="937.10" y="620.00" font-size="8.6" text-anchor="end" fill="#000">0,255</text>
<text x="150.92" y="632.00" font-size="8.6" text-anchor="end" fill="#000">-0,653</text>
<text x="202.61" y="632.00" font-size="8.6" text-anchor="end" fill="#000">-0,544</text>
<text x="254.50" y="632.00" font-size="8.6" text-anchor="end" fill="#000">-0,400</text>
<text x="305.87" y="632.00" font-size="8.6" text-anchor="end" fill="#000">-0,282</text>
<text x="511.23" y="632.00" font-size="8.6" text-anchor="end" fill="#000">0,850</text>
<text x="562.81" y="632.00" font-size="8.6" text-anchor="end" fill="#000">1,085</text>
<text x="614.07" y="632.00" font-size="8.6" text-anchor="end" fill="#000">1,658</text>
<text x="717.66" y="632.00" font-size="8.6" text-anchor="end" fill="#000">2,294</text>
<text x="824.63" y="632.00" font-size="8.6" text-anchor="end" fill="#000">0,682</text>
<text x="883.51" y="632.00" font-size="8.6" text-anchor="end" fill="#000">-0,841</text>
<text x="937.10" y="632.00" font-size="8.6" text-anchor="end" fill="#000">0,716</text>
<text x="150.92" y="644.00" font-size="8.6" text-anchor="end" fill="#000">-0,485</text>
<text x="202.61" y="644.00" font-size="8.6" text-anchor="end" fill="#000">-0,339</text>
<text x="254.50" y="644.00" font-size="8.6" text-anchor="end" fill="#000">-0,085</text>
<text x="304.50" y="644.00" font-size="8.6" text-anchor="end" fill="#000">0,089</text>
<text x="511.23" y="644.00" font-size="8.6" text-anchor="end" fill="#000">1,035</text>
<text x="562.81" y="644.00" font-size="8.6" text-anchor="end" fill="#000">1,457</text>
<text x="614.07" y="644.00" font-size="8.6" text-anchor="end" fill="#000">2,050</text>
<text x="717.66" y="644.00" font-size="8.6" text-anchor="end" fill="#000">2,658</text>
<text x="824.63" y="644.00" font-size="8.6" text-anchor="end" fill="#000">0,997</text>
<text x="883.51" y="644.00" font-size="8.6" text-anchor="end" fill="#000">-0,451</text>
<text x="937.10" y="644.00" font-size="8.6" text-anchor="end" fill="#000">1,040</text>
</g>
<g fill="#000">
<text x="60.00" y="416.00" font-size="8.25" fill="#000">Enero</text>
<text x="60.00" y="428.00" font-size="8.25" fill="#000">Febrero</text>
<text x="60.00" y="440.00" font-size="8.25" fill="#000">Marzo</text>
<text x="60.00" y="452.00" font-size="8.25" fill="#000">Abril</text>
<text x="60.00" y="464.00" font-size="8.25" fill="#000">Mayo</text>
<text x="60.00" y="476.00" font-size="8.25" fill="#000">Junio</text>
<text x="60.00" y="488.00" font-size="8.25" fill="#000">Julio</text>
<text x="60.00" y="500.00" font-size="8.25" fill="#000">Agosto</text>
<text x="60.00" y="512.00" font-size="8.25" fill="#000">Septiembre</text>
<text x="60.00" y="524.00" font-size="8.25" fill="#000">Octubre</text>
<text x="60.00" y="536.00" font-size="8.25" fill="#000">Noviembre</text>
<text x="60.00" y="548.00" font-size="8.25" fill="#000">Diciembre</text>
<text x="60.00" y="596.00" font-size="8.25" fill="#000">Enero</text>
<text x="60.00" y="608.00" font-size="8.25" fill="#000">Febrero</text>
<text x="60.00" y="620.00" font-size="8.25" fill="#000">Marzo</text>
<text x="60.00" y="632.00" font-size="8.25" fill="#000">Abril</text>
<text x="60.00" y="644.00" font-size="8.25" fill="#000">Mayo</text>
</g>
</svg>
</body></html>
